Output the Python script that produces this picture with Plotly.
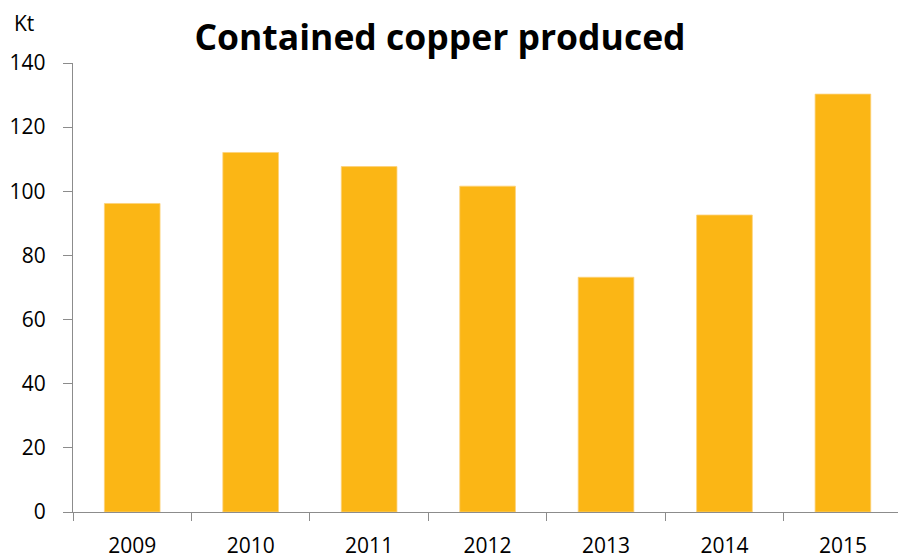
import plotly.graph_objects as go

# Contained copper output per year, kilotonnes
years = ["2009", "2010", "2011", "2012", "2013", "2014", "2015"]
copper_kt = [96.2, 112.1, 107.7, 101.6, 73.2, 92.6, 130.3]
y_ticks = [0, 20, 40, 60, 80, 100, 120, 140]

BAR = "#FBB615"
AXIS = "#8C8C8C"
FONT = "Open Sans"

fig = go.Figure(
    go.Bar(
        x=years,
        y=copper_kt,
        marker=dict(color=BAR, line=dict(color="#FDD27A", width=0.8)),
        width=0.47,
    )
)

fig.update_layout(
    width=898,
    height=558,
    margin=dict(l=73, r=0, t=63, b=46),
    paper_bgcolor="white",
    plot_bgcolor="white",
    showlegend=False,
    font=dict(family=FONT, size=21, color="#000000"),
    title=dict(
        text="<b>Contained copper produced</b>",
        x=0.49,
        xanchor="center",
        y=0.932,
        yanchor="middle",
        font=dict(family=FONT, size=35.5, color="#000000"),
    ),
    annotations=[
        dict(
            text="Kt",
            xref="paper",
            yref="paper",
            x=-0.059,
            y=1.09,
            xanchor="center",
            yanchor="middle",
            showarrow=False,
            font=dict(family=FONT, size=21, color="#000000"),
        )
    ],
)

fig.update_xaxes(
    type="category",
    range=[-0.5, 6.465],
    showline=True,
    linecolor=AXIS,
    linewidth=1.3,
    ticks="outside",
    tickson="boundaries",
    ticklen=8,
    tickcolor=AXIS,
    tickwidth=1.3,
    ticklabelstandoff=15,
    showgrid=False,
    zeroline=False,
)

fig.update_yaxes(
    range=[0, 140],
    tickvals=y_ticks,
    showline=True,
    linecolor=AXIS,
    linewidth=1.3,
    ticks="outside",
    ticklen=9,
    tickcolor=AXIS,
    tickwidth=1.3,
    ticklabelstandoff=13,
    showgrid=False,
    zeroline=False,
)

fig.write_html("out.html")
